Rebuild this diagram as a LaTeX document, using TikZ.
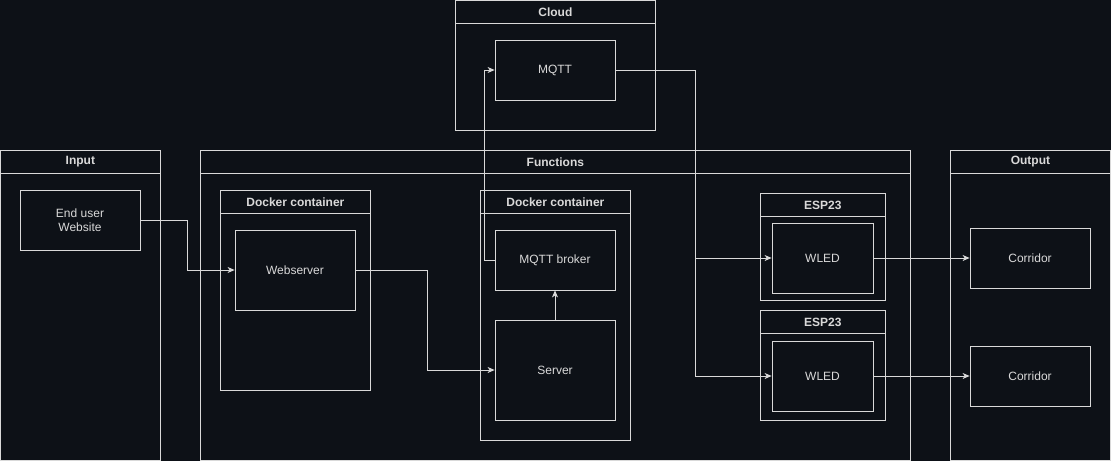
\documentclass[tikz,border=0pt]{standalone}
\usepackage{fontspec}
\setmainfont{Liberation Sans}
\usetikzlibrary{positioning,arrows.meta}
\definecolor{bgdark}{HTML}{0D1117}
\definecolor{linegray}{HTML}{D9D9D9}
\tikzset{
lane/.style={draw=linegray, line width=0.8pt, inner sep=0pt},
title/.style={draw=linegray, line width=0.8pt, anchor=north, minimum height=23pt, inner sep=0pt, text=linegray, font=\bfseries\fontsize{12}{14}\selectfont},
box/.style={draw=linegray, line width=0.8pt, inner sep=0pt, align=center, text=linegray, font=\fontsize{12}{14}\selectfont},
link/.style={draw=linegray, line width=0.8pt, -{Stealth[length=7pt,width=6pt,inset=2pt]}}
}
% name, left, top, width, height, title
\newcommand{\swimlane}[6]{
\node[lane, anchor=north west, minimum width=#4pt, minimum height=#5pt] (#1) at (#2,#3) {};
\node[title, minimum width=#4pt] (#1-t) at (#1.north) {#6};
}

\begin{document}
\begin{tikzpicture}[x=1pt,y=-1pt]
\fill[bgdark] (0,0) rectangle (1111,461);
\useasboundingbox (0,0) rectangle (1111,461);

\swimlane{cloud}{455}{0}{200}{130}{Cloud}
\swimlane{input}{0}{150}{160}{310}{Input}
\swimlane{functions}{200}{150}{710}{310}{Functions}
\swimlane{output}{950}{150}{160}{310}{Output}
\swimlane{dock1}{220}{190}{150}{200}{Docker container}
\swimlane{dock2}{480}{190}{150}{250}{Docker container}
\swimlane{esp1}{760}{193}{125}{107}{ESP23}
\swimlane{esp2}{760}{310}{125}{110}{ESP23}

\node[box, minimum width=120pt, minimum height=60pt] (mqtt) at (555,70) {MQTT};
\node[box, minimum width=120pt, minimum height=60pt] (user) at (80,220) {End user\\Website};
\node[box, minimum width=120pt, minimum height=80pt] (web) at (295,270) {Webserver};
\node[box, minimum width=120pt, minimum height=60pt] (broker) at (555,260) {MQTT broker};
\node[box, minimum width=120pt, minimum height=100pt] (server) at (555,370) {Server};
\node[box, minimum width=101pt, minimum height=70pt] (wled1) at (822.5,258) {WLED};
\node[box, minimum width=101pt, minimum height=70pt] (wled2) at (822.5,376) {WLED};
\node[box, minimum width=120pt, minimum height=60pt] (corr1) at (1030,258) {Corridor};
\node[box, minimum width=120pt, minimum height=60pt] (corr2) at (1030,376) {Corridor};

\draw[link] (user.east) -- ++(47,0) |- (web.west);
\draw[link] (web.east) -- ++(72,0) |- (server.west);
\draw[link] (server.north) -- (broker.south);
\draw[link] (broker.west) -- ++(-10,0) |- (mqtt.west);
\draw[link] (mqtt.east) -- ++(80,0) |- (wled1.west);
\draw[link] (mqtt.east) -- ++(80,0) |- (wled2.west);
\draw[link] (wled1.east) -- (corr1.west);
\draw[link] (wled2.east) -- (corr2.west);
\end{tikzpicture}
\end{document}
